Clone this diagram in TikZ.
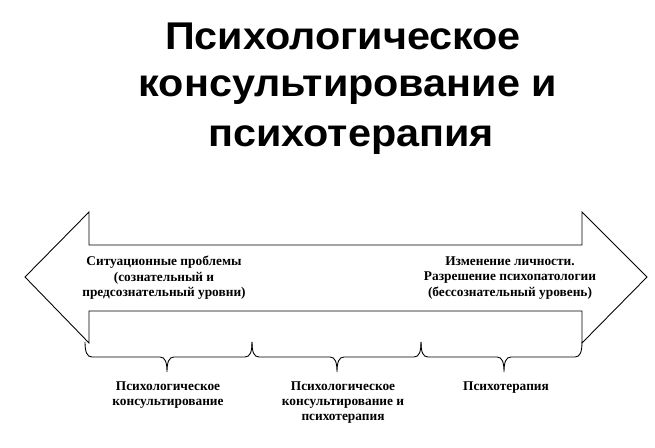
\documentclass[tikz,border=0pt]{standalone}
\usepackage{fontspec}
\setmainfont{Liberation Serif}
\newfontfamily\titlefont[FakeStretch=1.07]{Liberation Sans}
\begin{document}
\begin{tikzpicture}[x=0.02cm,y=-0.02cm,
  titleline/.style={anchor=base,inner sep=0pt,font=\titlefont\bfseries\fontsize{22}{22}\selectfont},
  smalltext/.style={align=center,inner sep=0pt,font=\bfseries\fontsize{7.6}{15.5\dimexpr 0.567pt\relax}\selectfont},
  outline/.style={line width=0.5pt,line join=miter},
  bracestyle/.style={line width=0.5pt}]
\useasboundingbox (0,0) rectangle (655,448);
% title
\node[titleline] (t1) at (343,50) {Психологическое};
\node[titleline] (t2) at (348,97) {консультирование и};
\node[titleline] (t3) at (351,147) {психотерапия};
% double arrow
\draw[outline]
  (25,277) -- (89,212) -- (89,245) -- (582,245) -- (582,212) -- (647,277)
  -- (582,343) -- (582,311) -- (89,311) -- (89,343) -- cycle;
\node[smalltext] (left) at (164,278) {Ситуационные проблемы\\(сознательный и\\предсознательный уровни)};
\node[smalltext] (right) at (510,278) {Изменение личности.\\Разрешение психопатологии\\(бессознательный уровень)};
% braces
\foreach \a/\m/\b in {85/167/252, 252/337/421, 421/504/582}{
  \draw[bracestyle] (\a,342) .. controls (\a,352) and (\a+2,357) .. (\a+7,357)
    -- (\m-7,357) .. controls (\m-2,357) and (\m,362) .. (\m,372)
    .. controls (\m,362) and (\m+2,357) .. (\m+7,357)
    -- (\b-7,357) .. controls (\b-2,357) and (\b,352) .. (\b,342);
}
\node[smalltext,anchor=north] (l1) at (168,381) {Психологическое\\консультирование};
\node[smalltext,anchor=north] (l2) at (343,381) {Психологическое\\консультирование и\\психотерапия};
\node[smalltext,anchor=north] (l3) at (506,381) {Психотерапия};
\end{tikzpicture}
\end{document}
